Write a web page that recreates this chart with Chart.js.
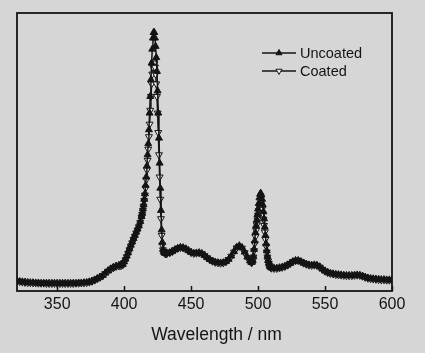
<!DOCTYPE html>
<html>
<head>
<meta charset="utf-8">
<script src="https://cdn.jsdelivr.net/npm/chart.js@4.4.0/dist/chart.umd.min.js"></script>
<style>
body { margin: 0; background: #d6d6d6; }
</style>
</head>
<body>
<canvas id="spectrumChart" width="425" height="353"></canvas>
<script>
// wavelengths (nm) - finer sampling
const wavelength = [
    320, 322, 324, 326, 328, 330, 332, 334, 336, 338,
    340, 342, 344, 346, 348, 350, 352, 354, 356, 358,
    360, 362, 364, 366, 368, 370, 372, 374, 376, 378,
    380, 382, 384, 386, 388, 390, 392, 394, 396,
    397, 398, 399, 400, 401, 402, 403, 404, 405, 406, 407, 408, 409, 410, 411, 412, 413,
    413.5, 414, 414.5, 415, 415.5, 416, 416.5, 417, 417.5, 418,
    418.5, 419, 419.5, 420, 420.5, 421, 421.5, 422, 422.5, 423,
    423.5, 424, 424.5, 425, 425.5, 426, 426.5, 427, 427.5, 428,
    428.5, 429, 429.5, 430, 430.5, 431, 431.5, 432,
    434, 436, 438, 440, 442, 444, 446, 448, 450, 452,
    454, 456, 458, 460, 462, 464, 466, 468, 470, 472,
    474, 476, 478, 480, 482, 484, 486, 488, 490, 492,
    494,
    495, 495.5, 496, 496.5, 497, 497.5, 498, 498.5, 499, 499.5,
    500, 500.5, 501, 501.5, 502, 502.5, 503, 503.5, 504, 504.5,
    505, 505.5, 506, 506.5, 507, 507.5, 508, 508.5, 509, 509.5,
    510,
    512, 514, 516, 518, 520, 522, 524, 526, 528, 530,
    532, 534, 536, 538, 540, 542, 544, 546, 548, 550,
    552, 554, 556, 558, 560, 562, 564, 566, 568, 570,
    572, 574, 576, 578, 580, 582, 584, 586, 588, 590,
    592, 594, 596, 598, 600
];

// intensity (arb. units, 0-100 of the frame height)
const uncoated = [
    3.6, 3.4, 3.3, 3.2, 3.1, 3.0, 3.0, 2.9, 2.9, 2.8,
    2.8, 2.8, 2.8, 2.8, 2.8, 2.8, 2.8, 2.8, 2.8, 2.8,
    2.8, 2.8, 2.8, 2.9, 2.9, 3.0, 3.1, 3.3, 3.6, 4.0,
    4.5, 5.0, 5.6, 6.5, 7.3, 8.0, 8.6, 9.0, 9.2,
    9.3, 9.4, 9.6, 10.5, 11.5, 12.6, 13.8, 15.2, 16.5, 17.7, 18.9, 20.0, 21.2, 22.3, 23.5, 25.0, 26.8,
    28, 29.5, 31, 33, 35, 38, 41, 45, 49, 53,
    58, 64, 70, 76, 82, 87, 91, 93, 93, 91,
    88, 84, 79, 72, 64, 55, 46, 37, 29, 22,
    17.5, 15, 14.2, 13.8, 13.6, 13.5, 13.5, 13.6,
    13.8, 14.3, 14.9, 15.4, 15.7, 15.6, 15.2, 14.5, 13.9, 13.6,
    13.7, 13.8, 13.5, 12.8, 12.0, 11.3, 10.8, 10.4, 10.2, 10.1,
    10.2, 10.6, 11.4, 12.6, 14.2, 15.7, 16.3, 15.6, 14.0, 12.2,
    10.8,
    10.3, 10.4, 11.0, 12.5, 15, 18, 21, 23.5, 25.5, 27.5,
    29.5, 31.5, 33.5, 34.8, 35.2, 34.5, 33, 31, 28.5, 26,
    23, 20, 17, 14.5, 12.5, 11, 10, 9.3, 8.8, 8.5,
    8.3,
    8.2, 8.2, 8.4, 8.6, 8.9, 9.4, 10.0, 10.6, 11.0, 11.0,
    10.6, 10.1, 9.7, 9.4, 9.3, 9.4, 9.3, 8.7, 7.9, 7.2,
    6.7, 6.4, 6.2, 6.0, 5.9, 5.8, 5.7, 5.6, 5.6, 5.6,
    5.7, 5.8, 5.7, 5.4, 5.0, 4.7, 4.5, 4.4, 4.3, 4.2,
    4.1, 4.1, 4.0, 4.0, 4.0
];

const coated = [
    3.5, 3.4, 3.2, 3.1, 3.0, 3.0, 2.9, 2.9, 2.8, 2.8,
    2.8, 2.7, 2.7, 2.7, 2.7, 2.7, 2.7, 2.7, 2.7, 2.7,
    2.7, 2.7, 2.8, 2.8, 2.9, 2.9, 3.0, 3.2, 3.5, 3.9,
    4.4, 4.9, 5.5, 6.3, 7.1, 7.8, 8.4, 8.8, 9.0,
    9.1, 9.2, 9.4, 10.2, 11.2, 12.3, 13.5, 14.8, 16.1, 17.3, 18.5, 19.6, 20.8, 21.9, 23.1, 24.6, 26.4,
    27.5, 29, 30.5, 32.5, 34.5, 37, 40, 43.5, 47, 51,
    55.5, 60, 65, 70, 74.5, 78, 80.5, 82, 82, 80.5,
    78, 74.5, 70, 64, 57, 49, 41, 33, 26, 20,
    16.5, 14.8, 14.1, 13.7, 13.5, 13.4, 13.4, 13.5,
    13.7, 14.2, 14.8, 15.3, 15.6, 15.5, 15.1, 14.4, 13.8, 13.5,
    13.6, 13.7, 13.4, 12.7, 11.9, 11.2, 10.7, 10.3, 10.1, 10.0,
    10.1, 10.5, 11.3, 12.5, 14.0, 15.5, 16.1, 15.4, 13.8, 12.0,
    10.7,
    10.2, 10.3, 10.8, 12.2, 14.5, 17, 19.5, 21.8, 23.8, 25.6,
    27.3, 28.9, 30.2, 30.9, 31.1, 30.6, 29.4, 27.8, 25.8, 23.6,
    21.2, 18.6, 16.1, 14, 12.2, 10.8, 9.9, 9.2, 8.7, 8.4,
    8.2,
    8.1, 8.1, 8.3, 8.5, 8.8, 9.3, 9.9, 10.5, 10.9, 10.9,
    10.5, 10.0, 9.6, 9.3, 9.2, 9.3, 9.2, 8.6, 7.8, 7.1,
    6.6, 6.3, 6.1, 5.9, 5.8, 5.7, 5.6, 5.5, 5.5, 5.5,
    5.6, 5.7, 5.6, 5.3, 4.9, 4.6, 4.4, 4.3, 4.2, 4.1,
    4.0, 4.0, 3.9, 3.9, 3.9
];

const xTicks = [350, 400, 450, 500, 550, 600];
const xTitle = 'Wavelength / nm';

const BG = '#d6d6d6';
const INK = '#141414';

Chart.defaults.font.family = '"Liberation Sans", Arial, sans-serif';
Chart.defaults.color = INK;

function toPoints(values) {
    return wavelength.map((w, i) => ({ x: w, y: values[i] }));
}

// grey paper behind everything
const paperPlugin = {
    id: 'paper',
    beforeDraw(chart) {
        const ctx = chart.ctx;
        ctx.save();
        ctx.fillStyle = BG;
        ctx.fillRect(0, 0, chart.width, chart.height);
        ctx.restore();
    }
};

// box around the plot with inward ticks on the bottom edge, plus the axis title
// (the original title sits a bit right of the frame centre, so it is placed by hand)
const framePlugin = {
    id: 'frame',
    afterDraw(chart) {
        const { ctx, chartArea } = chart;
        const xScale = chart.scales.x;
        ctx.save();
        ctx.strokeStyle = INK;
        ctx.lineWidth = 1.8;
        ctx.strokeRect(chartArea.left, chartArea.top, chartArea.right - chartArea.left, chartArea.bottom - chartArea.top);
        ctx.lineWidth = 1.5;
        ctx.beginPath();
        xTicks.forEach(v => {
            const px = Math.round(xScale.getPixelForValue(v)) + 0.5;
            ctx.moveTo(px, chartArea.bottom);
            ctx.lineTo(px, chartArea.bottom - 5);
        });
        ctx.stroke();

        ctx.fillStyle = INK;
        ctx.font = '17.5px "Liberation Sans", Arial, sans-serif';
        ctx.textAlign = 'center';
        ctx.textBaseline = 'middle';
        ctx.fillText(xTitle, xScale.getPixelForValue(469), chartArea.bottom + 44);
        ctx.restore();
    }
};

// legend drawn inside the plot, top right
const insideLegendPlugin = {
    id: 'insideLegend',
    afterDraw(chart) {
        const { ctx, chartArea } = chart;
        const x0 = chartArea.right - 130;
        const y0 = chartArea.top + 40;
        ctx.save();
        chart.data.datasets.forEach((ds, i) => {
            const y = y0 + i * 18;
            ctx.strokeStyle = INK;
            ctx.lineWidth = 1.3;
            ctx.beginPath();
            ctx.moveTo(x0, y);
            ctx.lineTo(x0 + 34, y);
            ctx.stroke();
            ctx.fillStyle = ds.pointBackgroundColor;
            ctx.strokeStyle = ds.pointBorderColor;
            ctx.lineWidth = 1;
            Chart.helpers.drawPoint(ctx, {
                pointStyle: 'triangle',
                radius: 3.5,
                rotation: ds.pointRotation || 0,
                borderWidth: 1
            }, x0 + 17, y);
            ctx.fillStyle = INK;
            ctx.font = '14.5px "Liberation Sans", Arial, sans-serif';
            ctx.textBaseline = 'middle';
            ctx.textAlign = 'left';
            ctx.fillText(ds.label, x0 + 38, y + 1);
        });
        ctx.restore();
    }
};

new Chart(document.getElementById('spectrumChart').getContext('2d'), {
    type: 'line',
    data: {
        datasets: [{
            label: 'Uncoated',
            data: toPoints(uncoated),
            borderColor: INK,
            borderWidth: 1.5,
            pointStyle: 'triangle',
            pointRadius: 4,
            pointBackgroundColor: INK,
            pointBorderColor: INK,
            pointBorderWidth: 1,
            tension: 0
        }, {
            label: 'Coated',
            data: toPoints(coated),
            borderColor: INK,
            borderWidth: 1.5,
            pointStyle: 'triangle',
            pointRotation: 180,
            pointRadius: 4,
            pointBackgroundColor: '#ececec',
            pointBorderColor: INK,
            pointBorderWidth: 1,
            tension: 0
        }]
    },
    options: {
        responsive: false,
        animation: false,
        layout: { padding: { left: 17, top: 13, right: 33, bottom: 0 } },
        plugins: {
            legend: { display: false },
            tooltip: { enabled: false }
        },
        scales: {
            x: {
                type: 'linear',
                min: 320,
                max: 600,
                afterBuildTicks: scale => {
                    scale.ticks = xTicks.map(v => ({ value: v }));
                },
                afterFit: scale => {
                    scale.height = 62;
                },
                grid: { display: false, drawTicks: false },
                border: { display: false },
                ticks: {
                    font: { size: 16 },
                    padding: 4,
                    maxRotation: 0,
                    autoSkip: false
                },
                title: { display: false }
            },
            y: {
                display: false,
                min: 0,
                max: 100
            }
        }
    },
    plugins: [paperPlugin, framePlugin, insideLegendPlugin]
});
</script>
</body>
</html>
